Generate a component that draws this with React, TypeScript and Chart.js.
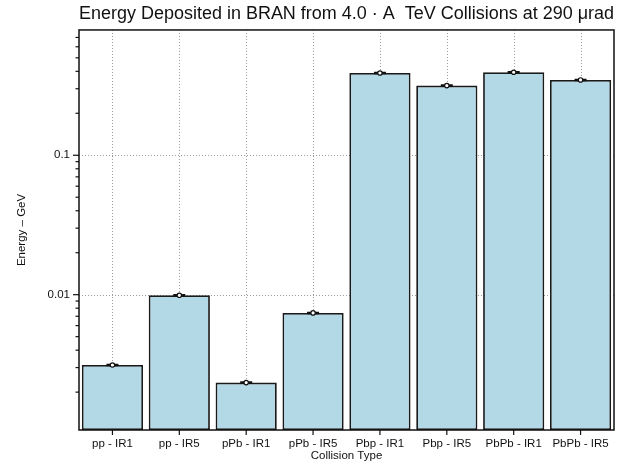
import { useEffect, useRef } from "react";
import { Chart, registerables } from "chart.js";

Chart.register(...registerables);

const categories = [
  "pp - IR1",
  "pp - IR5",
  "pPb - IR1",
  "pPb - IR5",
  "Pbp - IR1",
  "Pbp - IR5",
  "PbPb - IR1",
  "PbPb - IR5",
];
const energyGeV = [0.00313, 0.0099, 0.00234, 0.0074, 0.389, 0.316, 0.394, 0.347];
const yTickLabels = ["0.01", "0.1"];
const yMin = 0.00107;
const yMax = 0.792;

const FONT = "'Liberation Sans', Arial, Helvetica, sans-serif";

function decomp(v: number) {
  const exp = Math.floor(Math.log10(v) + 1e-9);
  const sig = v / Math.pow(10, exp);
  return { exp, sig };
}
function isDecade(v: number) {
  const { sig } = decomp(v);
  return Math.abs(sig - 1) < 1e-6;
}
function isIntSig(v: number) {
  const { sig } = decomp(v);
  return Math.abs(sig - Math.round(sig)) < 1e-6;
}

const decorPlugin = {
  id: "decor",
  beforeDatasetsDraw(chart: any) {
    const { ctx, chartArea } = chart;
    const x = chart.scales.x;
    const y = chart.scales.y;
    ctx.save();
    ctx.strokeStyle = "#9a9a9a";
    ctx.lineWidth = 1;
    ctx.setLineDash([1, 2]);
    categories.forEach((_, i) => {
      const px = Math.round(x.getPixelForValue(i)) + 0.5;
      ctx.beginPath();
      ctx.moveTo(px, chartArea.top);
      ctx.lineTo(px, chartArea.bottom);
      ctx.stroke();
    });
    y.ticks.forEach((t: any) => {
      if (!isDecade(t.value)) return;
      const py = Math.round(y.getPixelForValue(t.value)) + 0.5;
      ctx.beginPath();
      ctx.moveTo(chartArea.left, py);
      ctx.lineTo(chartArea.right, py);
      ctx.stroke();
    });
    ctx.restore();
  },
  afterDraw(chart: any) {
    const { ctx, chartArea } = chart;
    const x = chart.scales.x;
    const y = chart.scales.y;
    ctx.save();
    ctx.setLineDash([]);
    ctx.strokeStyle = "#111";
    ctx.lineWidth = 1.5;
    ctx.strokeRect(
      chartArea.left,
      chartArea.top,
      chartArea.right - chartArea.left,
      chartArea.bottom - chartArea.top
    );
    ctx.lineWidth = 1.2;
    y.ticks.forEach((t: any) => {
      if (!isIntSig(t.value)) return;
      const py = y.getPixelForValue(t.value);
      if (py < chartArea.top || py > chartArea.bottom) return;
      const len = isDecade(t.value) ? 6 : 3.5;
      ctx.beginPath();
      ctx.moveTo(chartArea.left - len, py);
      ctx.lineTo(chartArea.left, py);
      ctx.stroke();
    });
    categories.forEach((_, i) => {
      const px = x.getPixelForValue(i);
      ctx.beginPath();
      ctx.moveTo(px, chartArea.bottom);
      ctx.lineTo(px, chartArea.bottom + 5);
      ctx.stroke();
    });
    ctx.restore();
  },
};

export default function App() {
  const ref = useRef<HTMLCanvasElement | null>(null);
  useEffect(() => {
    if (!ref.current) return;
    const chart = new Chart(ref.current, {
      type: "bar",
      data: {
        labels: categories,
        datasets: [
          {
            type: "line",
            data: energyGeV,
            showLine: false,
            pointStyle: "circle",
            pointRadius: 2.2,
            pointBackgroundColor: "#ffffff",
            pointBorderColor: "#111",
            pointBorderWidth: 1.2,
            order: 0,
          } as any,
          {
            type: "line",
            data: energyGeV,
            showLine: false,
            pointStyle: "line",
            pointRadius: 6,
            pointBorderColor: "#111",
            pointBorderWidth: 2.5,
            order: 1,
          } as any,
          {
            type: "bar",
            data: energyGeV,
            backgroundColor: "#b3d8e6",
            borderColor: "#1a1a1a",
            borderWidth: 1.8,
            borderSkipped: false,
            barPercentage: 0.915,
            categoryPercentage: 1,
            order: 2,
          } as any,
        ],
      },
      options: {
        animation: false,
        responsive: false,
        layout: { padding: { left: 0, right: 10, top: 0, bottom: 0 } },
        plugins: {
          legend: { display: false },
          tooltip: { enabled: false },
          title: {
            display: true,
            fullSize: false,
            text: "Energy Deposited in BRAN from 4.0 \u00b7 A  TeV Collisions at 290 \u03bcrad",
            color: "#111",
            font: { family: FONT, size: 18.3, weight: "normal" },
            padding: { top: 3, bottom: 5 },
          },
        },
        scales: {
          x: {
            type: "category",
            grid: { display: false, drawTicks: false },
            border: { display: false },
            ticks: {
              color: "#111",
              font: { family: FONT, size: 11.5 },
              padding: 7,
              maxRotation: 0,
              autoSkip: false,
            },
            title: {
              display: true,
              text: "Collision Type",
              color: "#111",
              font: { family: FONT, size: 11.5 },
              padding: { top: 0, bottom: 3 },
            },
            afterFit: (s: any) => {
              s.height = 36;
            },
          },
          y: {
            type: "logarithmic",
            min: yMin,
            max: yMax,
            grid: { display: false, drawTicks: false },
            border: { display: false },
            ticks: {
              color: "#111",
              font: { family: FONT, size: 11.5 },
              padding: 9,
              autoSkip: false,
              callback: (v: any) => {
                const n = Number(v);
                if (!isDecade(n)) return "";
                const lbl = yTickLabels.find((l) => Math.abs(Number(l) - n) / n < 1e-6);
                return lbl ?? "";
              },
            },
            title: {
              display: true,
              text: "Energy \u2013 GeV",
              color: "#111",
              font: { family: FONT, size: 11.5 },
              padding: { top: 15, bottom: 0 },
            },
            afterFit: (s: any) => {
              s.width = 79;
            },
          },
        },
      },
      plugins: [decorPlugin],
    });
    return () => chart.destroy();
  }, []);
  return (
    <div style={{ position: "absolute", left: 0, top: 0, width: 624, height: 466 }}>
      <canvas ref={ref} width={624} height={466} style={{ display: "block" }} />
    </div>
  );
}
